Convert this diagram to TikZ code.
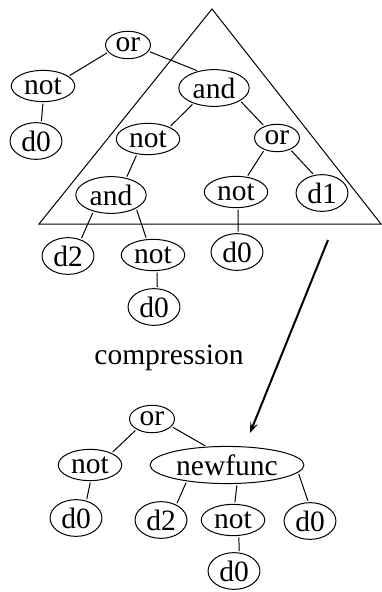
\documentclass[tikz,border=0pt]{standalone}
\usepackage{fontspec}
\setmainfont{Liberation Serif}
\usetikzlibrary{shapes.geometric,arrows.meta}
\tikzset{
  big/.style={font=\fontsize{29.5}{34}\selectfont},
  tn/.style={ellipse,draw,line width=1pt,inner xsep=3.6pt,inner ysep=2.6pt,big},
  ed/.style={line width=1pt,shorten <=1.5pt,shorten >=1.5pt},
  flow/.style={line width=2pt,-{Stealth[length=11pt,width=8pt,inset=5pt]}},
}
\begin{document}
\begin{tikzpicture}[x=1pt,y=-1pt]
\useasboundingbox (0,0) rectangle (382,592);

% region that gets replaced
\coordinate (tA) at (212,9);
\coordinate (tL) at (39,224);
\coordinate (tR) at (381,224);
\draw[line width=1pt,line join=miter] (tA) -- (tL) -- (tR) -- cycle;

% original expression
\node[tn] (or1)  at (128,45)  {or};
\node[tn] (not1) at (43,86)   {not};
\node[tn] (d01)  at (36,141)  {d0};
\node[tn] (and1) at (214,88)  {and};
\node[tn] (not2) at (148,139) {not};
\node[tn] (or2)  at (277,138) {or};
\node[tn] (and2) at (111,195) {and};
\node[tn] (not3) at (236,192) {not};
\node[tn] (d1)   at (322,193) {d1};
\node[tn] (d2)   at (68,256)  {d2};
\node[tn] (not4) at (153,255) {not};
\node[tn] (d02)  at (237,252) {d0};
\node[tn] (d03)  at (154,307) {d0};

\draw[ed] (or1.200) -- (not1.21);
\draw[ed] (or1.343) -- (and1.133);
\draw[ed] (not1.270) -- (d01.74);
\draw[ed] (and1.217) -- (not2.29);
\draw[ed] (and1.334) -- (or2.137);
\draw[ed] (not2.234) -- (and2.48);
\draw[ed] (or2.223) -- (not3.54);
\draw[ed] (or2.319) -- (d1.114);
\draw[ed] (and2.223) -- (d2.52);
\draw[ed] (and2.332) -- (not4.112);
\draw[ed] (not3.278) -- (d02.87);
\draw[ed] (not4.284) -- (d03.80);

% compression step
\coordinate (a0) at (328,240);
\coordinate (a1) at (250,433);
\draw[flow] (a0) -- (a1);
\node[big,anchor=base] (lbl) at (169,364) {compression};

% compressed expression
\node[tn] (orB)  at (152,419) {or};
\node[tn] (notB) at (90,465)  {not};
\node[tn] (nf)   at (227,465) {newfunc};
\node[tn] (d0a)  at (76,518)  {d0};
\node[tn] (d2B)  at (161,520) {d2};
\node[tn] (notC) at (233,520) {not};
\node[tn] (d0r)  at (310,521) {d0};
\node[tn] (d0b)  at (234,571) {d0};

\draw[ed] (orB.214) -- (notB.29);
\draw[ed] (orB.339) -- (nf.138);
\draw[ed] (notB.272) -- (d0a.59);
\draw[ed] (nf.202) -- (d2B.45);
\draw[ed] (nf.298) -- (notC.84);
\draw[ed] (nf.354) -- (d0r.95);
\draw[ed] (notC.290) -- (d0b.74);
\end{tikzpicture}
\end{document}
